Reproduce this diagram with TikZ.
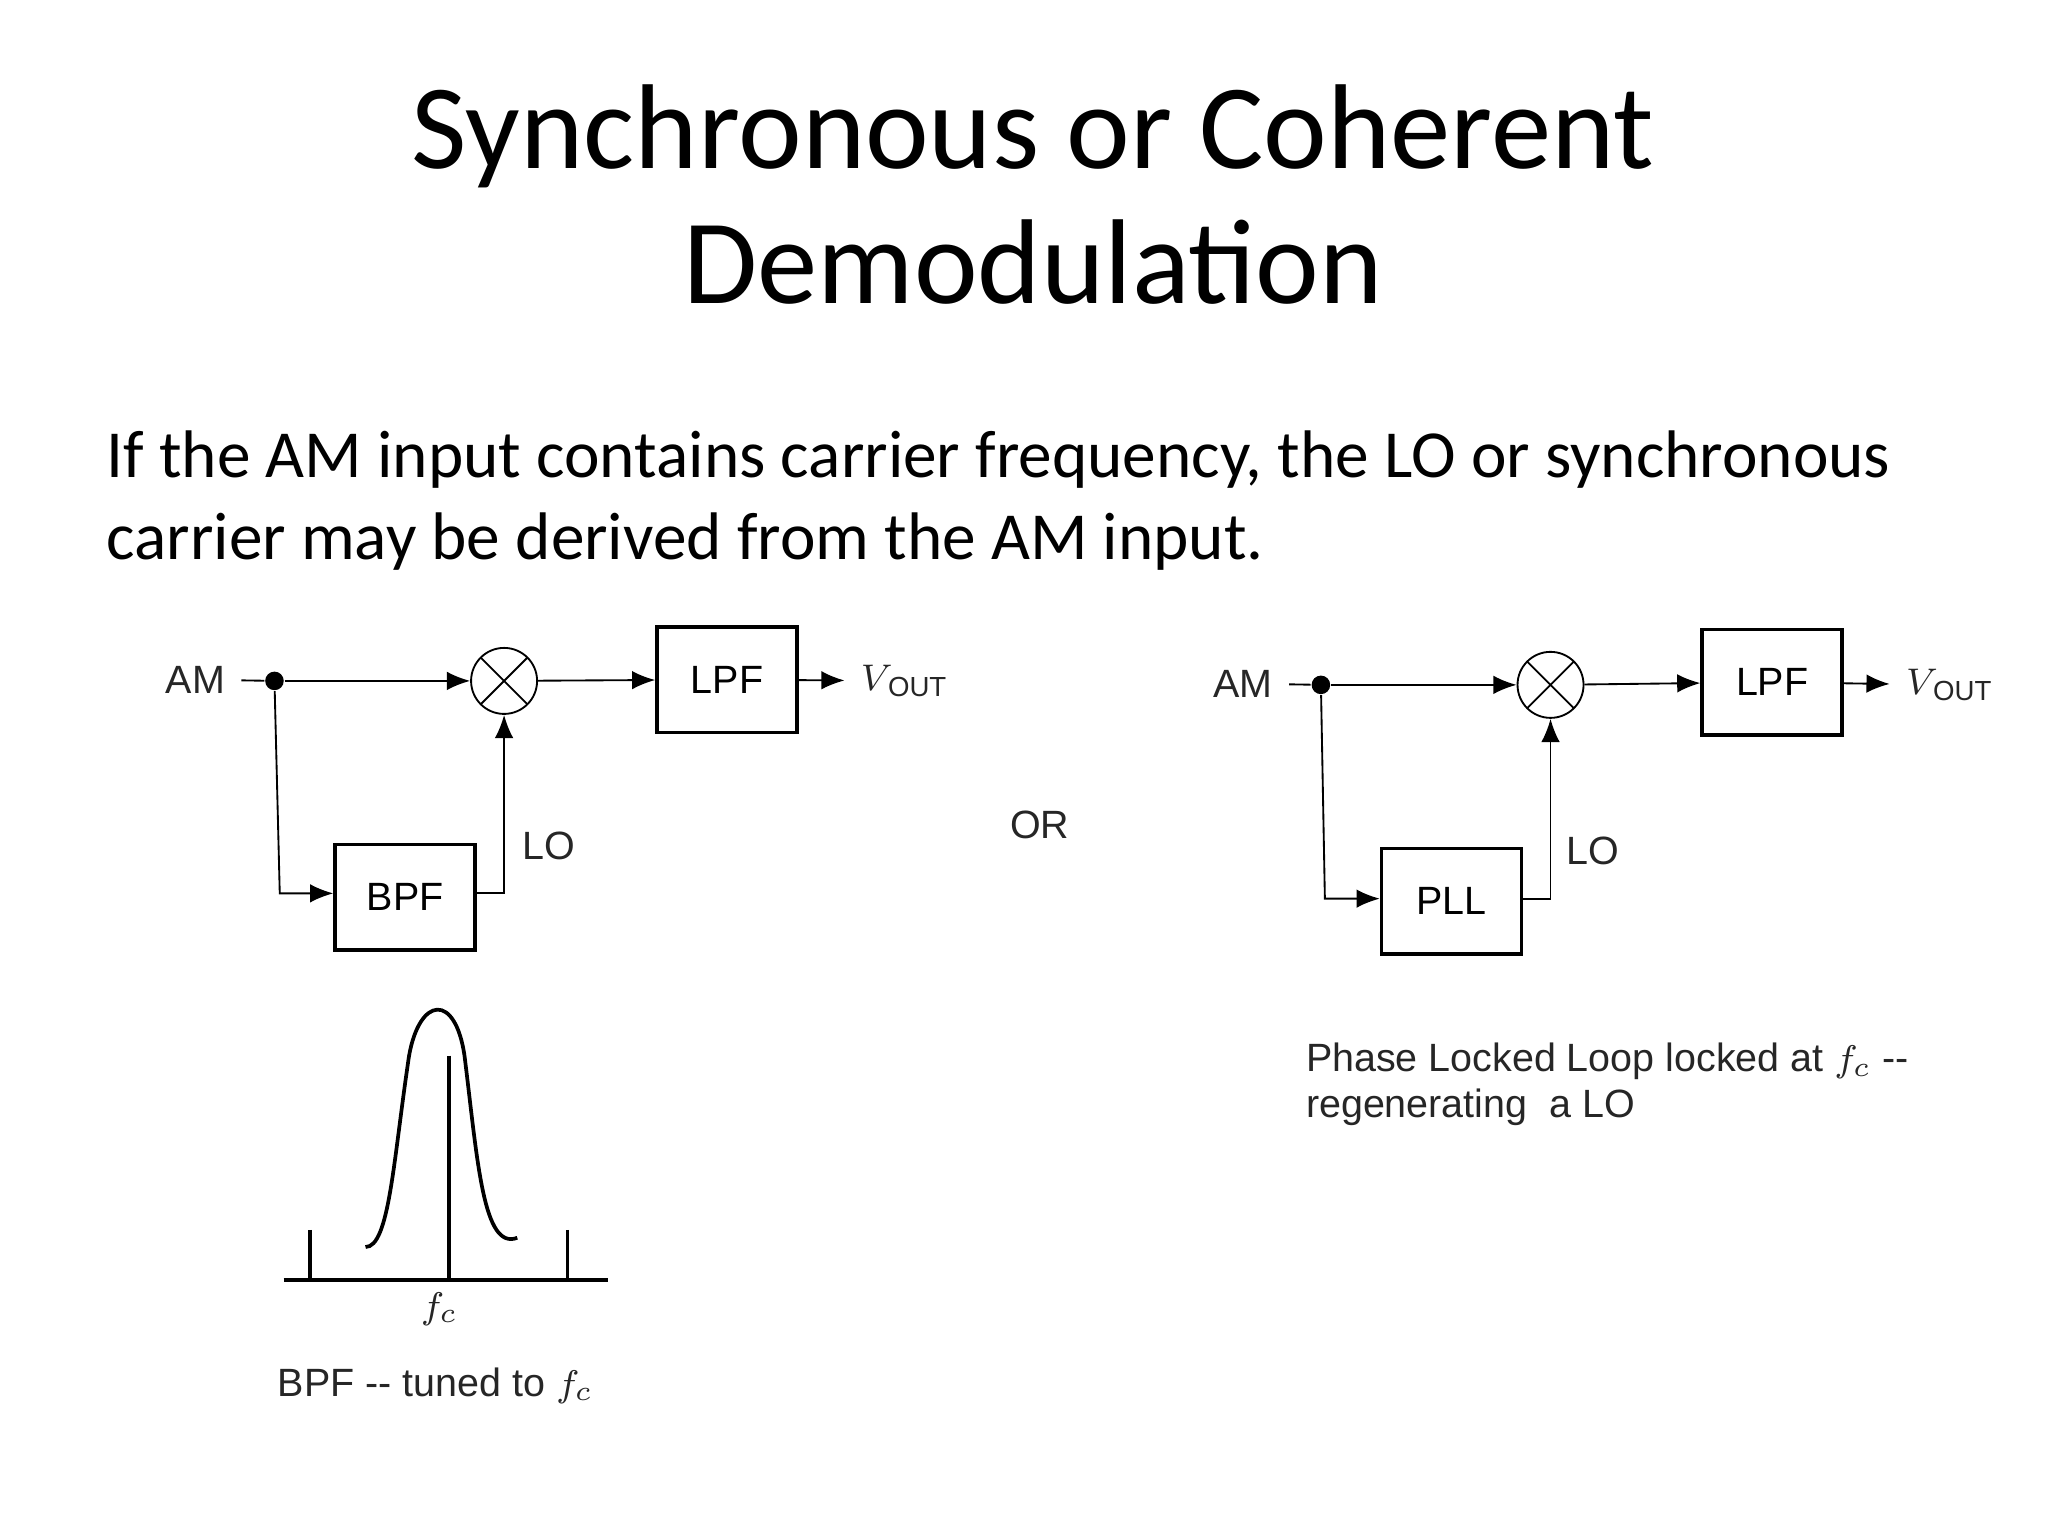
\documentclass[tikz,border=0pt]{standalone}
\usepackage{fontspec}
\setmainfont{Carlito}
\newfontfamily\arial{Liberation Sans}
\usetikzlibrary{arrows.meta}
\begin{document}
\begin{tikzpicture}[x=0.01cm,y=-0.01cm,
  blk/.style={draw,thick,minimum width=1.06cm,minimum height=0.8cm,font=\arial\fontsize{8.5}{10}\selectfont},
  lbl/.style={font=\arial\fontsize{8.5}{10}\selectfont,text=black!85},
  mix/.style={draw,circle,minimum size=0.5cm,inner sep=0pt,path picture={\draw (path picture bounding box.north west)--(path picture bounding box.south east) (path picture bounding box.north east)--(path picture bounding box.south west);}},
  arr/.style={-{Latex[length=5pt,width=4pt]}},
  dot/.style={circle,fill,inner sep=0pt,minimum size=4pt}]
\useasboundingbox (0,0) rectangle (1552,1164);
\node[anchor=base,font=\fontsize{26}{30}\selectfont] (t1) at (783,128) {Synchronous or Coherent};
\node[anchor=base,font=\fontsize{26}{30}\selectfont] (t2) at (783,230) {Demodulation};
\node[anchor=base west,font=\fontsize{14.5}{17}\selectfont,inner sep=0pt] (b1) at (80,362) {If the AM input contains carrier frequency, the LO or synchronous};
\node[anchor=base west,font=\fontsize{14.5}{17}\selectfont,inner sep=0pt] (b2) at (80,424) {carrier may be derived from the AM input.};
% left diagram
\begin{scope}
\node[lbl] (am) at (148,515) {AM};
\node[dot] (d) at (208,516) {};
\node[mix] (m) at (382,516) {};
\node[blk] (lpf) at (551,515) {LPF};
\node[blk] (bpf) at (307,680) {BPF};
\node[lbl,anchor=west] (vo) at (640,516) {$V$\kern-1pt\textsubscript{OUT}};
\node[lbl] (lo) at (416,641) {LO};
\draw (am) -- (d);
\draw[arr] (d) -- (m);
\draw[arr] (m) -- (lpf);
\draw[arr] (lpf) -- (vo);
\draw[arr] (d) -- (212,677) -- (bpf.west |- 0,677);
\draw[arr] (bpf.east |- 0,677) -- (382,677) -- (m.south);
\end{scope}
\node[lbl] (or) at (788,625) {OR};
% right diagram
\node[lbl] (am2) at (942,518) {AM};
\node[dot] (d2) at (1001,519) {};
\node[mix] (m2) at (1175,519) {};
\node[blk] (lpf2) at (1343,517) {LPF};
\node[blk] (pll) at (1100,683) {PLL};
\node[lbl,anchor=west] (vo2) at (1432,519) {$V$\kern-1pt\textsubscript{OUT}};
\node[lbl] (lo2) at (1207,645) {LO};
\draw (am2) -- (d2);
\draw[arr] (d2) -- (m2);
\draw[arr] (m2) -- (lpf2);
\draw[arr] (lpf2) -- (vo2);
\draw[arr] (d2) -- (1004,681) -- (pll.west |- 0,681);
\draw[arr] (pll.east |- 0,681) -- (1175,681) -- (m2.south);
\node[lbl,anchor=base west,inner sep=0pt,align=left] (pt) at (989,812) {Phase Locked Loop locked at $f_c$ --};
\node[lbl,anchor=base west,inner sep=0pt] (pt2) at (989,847) {regenerating\ \ a LO};
% bell curve
\draw[thick] (215,970) -- (461,970);
\draw[thick] (235,932) -- (235,970) (430,932) -- (430,970) (340,800) -- (340,970);
\draw[thick] (277,945) .. controls (295,945) and (298,880) .. (310,800) .. controls (318,755) and (345,752) .. (352,800) .. controls (362,880) and (366,948) .. (392,938);
\node[lbl] (fc) at (333,992) {$f_c$};
\node[lbl] (bt) at (330,1050) {BPF -- tuned to $f_c$};
\end{tikzpicture}
\end{document}
